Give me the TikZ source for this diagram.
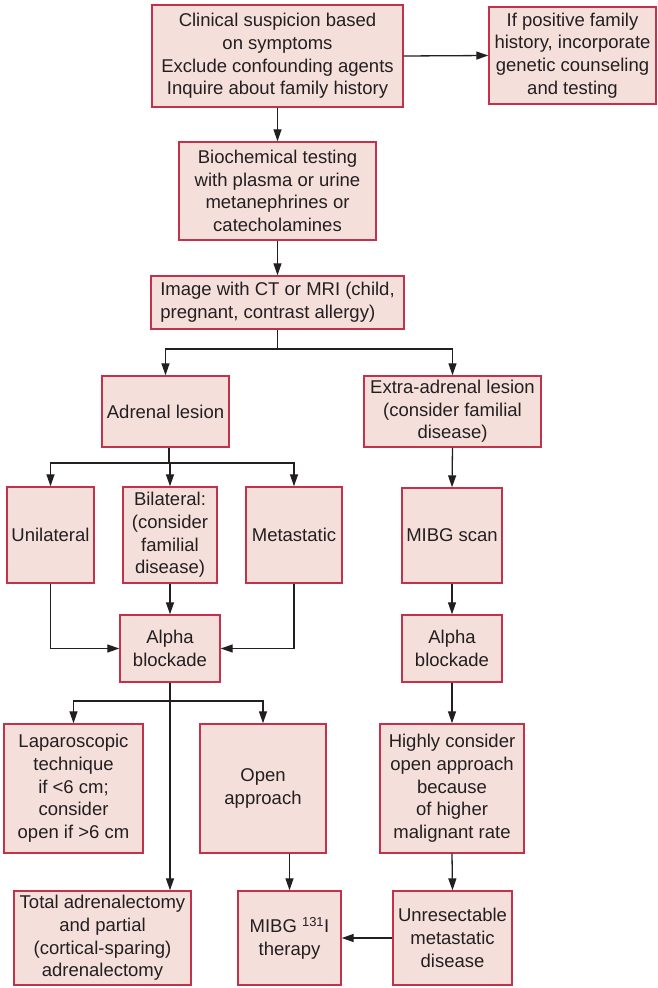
\documentclass[tikz,border=0pt]{standalone}
\usepackage{fontspec}
\setmainfont{Liberation Sans}
\usetikzlibrary{arrows.meta}
\definecolor{boxfill}{HTML}{F5DFDB}
\definecolor{boxline}{HTML}{C4314B}
\definecolor{ink}{HTML}{231F20}
\begin{document}
\begin{tikzpicture}[x=1pt, y=-1pt,
    box/.style={draw=boxline, fill=boxfill, line width=1.4pt, inner sep=0pt,
        align=center, text=ink, font=\fontsize{18.5}{22.7}\selectfont},
    ln/.style={draw=ink, line width=1.3pt},
    arr/.style={ln, -{Triangle[length=12pt,width=8pt]}}]
            \useasboundingbox (0,0) rectangle (658,988);

            \node[box, minimum width=251, minimum height=102] (1) at (277.5,56)
                {Clinical suspicion based\\on symptoms\\Exclude confounding agents\\Inquire about family history};
            \node[box, minimum width=167, minimum height=97] (2) at (572.5,55.5)
                {If positive family\\history, incorporate\\genetic counseling\\and testing};
            \node[box, minimum width=197, minimum height=98] (3) at (277.5,191)
                {Biochemical testing\\with plasma or urine\\metanephrines or\\catecholamines};
            \node[box, align=left, minimum width=253, minimum height=53] (4) at (277.5,302.5)
                {Image with CT or MRI (child,\\pregnant, contrast allergy)};

            \node[box, minimum width=127, minimum height=71] (5) at (165.5,411.5) {Adrenal lesion};
            \node[box, minimum width=177, minimum height=71] (6) at (452.5,411.5)
                {Extra-adrenal lesion\\(consider familial\\disease)};

            \node[box, minimum width=87, minimum height=96] (7) at (50.5,535) {Unilateral};
            \node[box, minimum width=94, minimum height=96] (8) at (170,535)
                {Bilateral:\\(consider\\familial\\disease)};
            \node[box, minimum width=96, minimum height=96] (9) at (294,535) {Metastatic};
            \node[box, minimum width=100, minimum height=95] (11) at (452,535.5) {MIBG scan};

            \node[box, minimum width=100, minimum height=67] (10) at (170,648.5) {Alpha\\blockade};
            \node[box, minimum width=100, minimum height=67] (12) at (452,648.5) {Alpha\\blockade};

            \node[box, minimum width=139, minimum height=129] (13) at (73.5,788.5)
                {Laparoscopic\\technique\\if <6 cm;\\consider\\open if >6 cm};
            \node[box, minimum width=126, minimum height=129] (14) at (263,788.5) {Open\\approach};
            \node[box, minimum width=144, minimum height=129] (15) at (452,788.5)
                {Highly consider\\open approach\\because\\of higher\\malignant rate};

            \node[box, minimum width=177, minimum height=94] (16) at (102.5,938)
                {Total adrenalectomy\\and partial\\(cortical-sparing)\\adrenalectomy};
            \node[box, minimum width=103, minimum height=94] (17) at (289.5,938)
                {MIBG \textsuperscript{131}I\\therapy};
            \node[box, minimum width=119, minimum height=94] (18) at (452.5,938)
                {Unresectable\\metastatic\\disease};

            \coordinate (a) at (277.5,349);
            \coordinate (b) at (169,463);
            \coordinate (c) at (170,701);

            \draw[arr] (1.east) -- (2.west);
            \draw[arr] (1.south) -- (3.north);
            \draw[arr] (3.south) -- (4.north);

            \draw[ln] (4.south) -- (a);
            \draw[arr] (a) -| (5.north);
            \draw[arr] (a) -| (6.north);

            \draw[ln] (5.south -| b) -- (b);
            \draw[arr] (b) -| (7.north);
            \draw[arr] (b) -| (8.north);
            \draw[arr] (b) -| (9.north);

            \draw[arr] (7.south) |- (10.west);
            \draw[arr] (8.south) -- (10.north);
            \draw[arr] (9.south) |- (10.east);

            \draw[arr] (6.south) -- (11.north);
            \draw[arr] (11.south) -- (12.north);
            \draw[arr] (12.south) -- (15.north);
            \draw[arr] (15.south) -- (18.north);

            \draw[ln] (10.south) -- (c);
            \draw[arr] (c) -| (13.north);
            \draw[arr] (c) -| (14.north);
            \draw[arr] (c) -- (c |- 16.north);

            \draw[arr] (14.south -| 17.north) -- (17.north);
            \draw[arr] (18.west) -- (17.east);
        \end{tikzpicture}
\end{document}
